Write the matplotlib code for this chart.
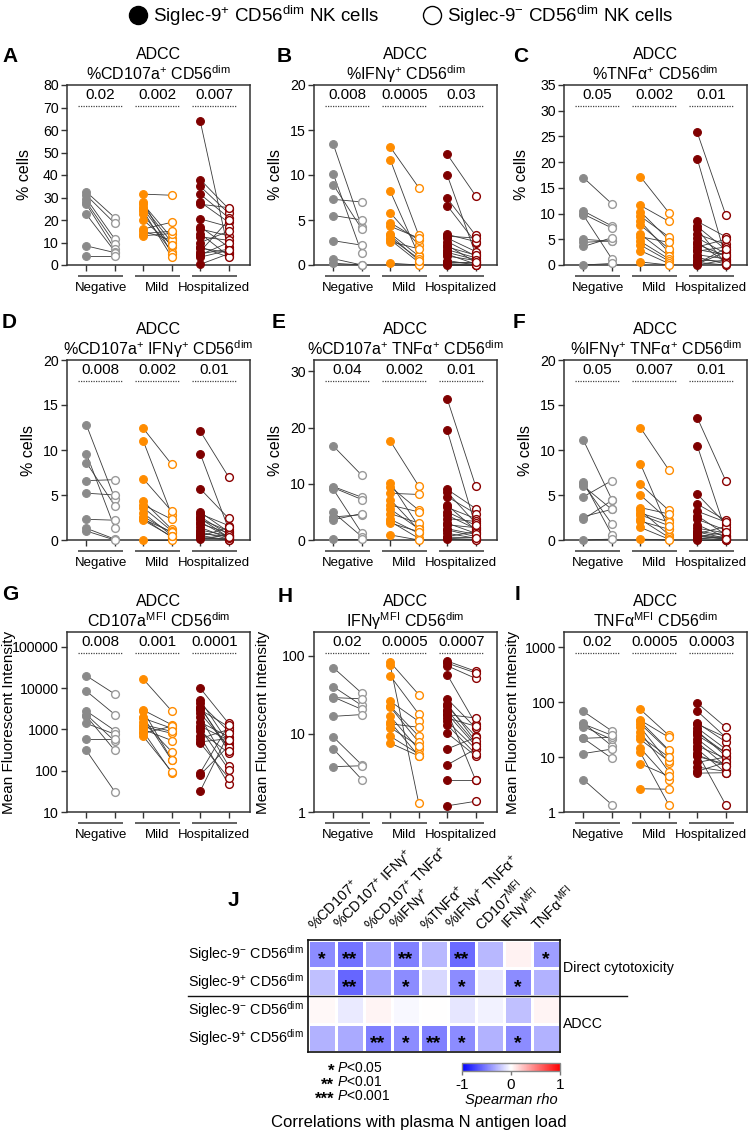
import matplotlib
matplotlib.use("Agg")
import matplotlib.pyplot as plt
from matplotlib.lines import Line2D
import numpy as np

plt.rcParams['font.family'] = ['Liberation Sans', 'DejaVu Sans']
plt.rcParams['mathtext.fontset'] = 'custom'
plt.rcParams['mathtext.rm'] = 'Liberation Sans'
plt.rcParams['mathtext.it'] = 'Liberation Sans:italic'
plt.rcParams['mathtext.bf'] = 'Liberation Sans:bold'

# ---------------- data ----------------
groups = ['Negative', 'Mild', 'Hospitalized']

A_neg_pos = [32.5, 31, 29.5, 28, 27, 22.5, 8.5, 3.8]
A_neg_neg = [21, 18.5, 11.5, 9.5, 7, 6, 5.5, 3.8]
A_mild_pos = [31.5, 27, 26, 25, 22.5, 16, 15, 13, 28, 24, 20, 14]
A_mild_neg = [31, 12, 10, 8, 6, 19, 11, 14, 5, 3.5, 9, 15]
A_hosp_pos = [64, 38, 35, 31.5, 28, 20.5, 17, 16, 12.5, 10, 7.5, 5, 4.5, 0.3, 27, 14, 8, 6, 3.5]
A_hosp_neg = [6, 25, 23, 21, 19, 17, 8, 13, 11, 15, 5.5, 7, 10, 5, 25.5, 4, 3.5, 20, 6.5]

B_neg_pos = [13.4, 10.1, 8.9, 7.3, 5.5, 2.7, 0.7, 0.2]
B_neg_neg = [4.2, 1.3, 4.0, 7.0, 5.0, 2.2, 0.0, 0.0]
B_mild_pos = [13.1, 11.7, 8.2, 5.8, 4.7, 3.5, 3.0, 2.8, 0.2, 4.3, 3.3, 2.6]
B_mild_neg = [8.6, 3.3, 1.1, 2.2, 2.8, 1.0, 0.7, 0.3, 0.0, 3.0, 0.5, 1.8]
B_hosp_pos = [12.3, 10.0, 7.4, 6.6, 3.4, 3.0, 2.6, 2.2, 1.7, 1.2, 1.0, 0.5, 0.3, 0.1, 0.0, 3.2, 2.0, 1.4, 0.2]
B_hosp_neg = [7.7, 1.2, 3.3, 2.5, 2.6, 1.5, 1.0, 0.3, 0.8, 0.1, 0.5, 0.0, 0.2, 0.0, 0.0, 3.0, 1.1, 0.6, 0.3]

C_neg_pos = [17, 10.5, 9.9, 9.7, 5.0, 4.4, 3.6, 0.0]
C_neg_neg = [11.9, 7.6, 7.2, 1.2, 4.6, 4.7, 5.3, 0.3]
C_mild_pos = [17.2, 11.6, 10.4, 9.5, 8.5, 7.8, 6.0, 4.6, 3.9, 2.8, 0.6, 5.5]
C_mild_neg = [10.2, 8.5, 4.9, 5.5, 2.5, 3.2, 1.8, 1.2, 0.8, 0.3, 0.0, 4.4]
C_hosp_pos = [25.8, 20.7, 8.5, 7.5, 6.0, 5.3, 4.0, 3.5, 2.7, 2.0, 1.0, 0.5, 0.2, 0.0, 7.0, 4.5, 3.0, 1.5, 0.3]
C_hosp_neg = [9.8, 1.5, 5.5, 3.0, 4.0, 2.2, 1.8, 5.0, 3.5, 1.2, 0.7, 0.0, 2.5, 1.0, 0.3, 0.5, 2.0, 0.2, 3.2]

D_neg_pos = [12.8, 9.6, 8.6, 6.6, 5.2, 2.3, 1.3, 1.0]
D_neg_neg = [4.6, 1.3, 3.8, 6.7, 5.0, 2.2, 0.1, 0.0]
D_mild_pos = [12.4, 11.0, 6.8, 4.3, 3.9, 3.6, 2.6, 2.4, 2.3, 0.0, 3.0, 2.2]
D_mild_neg = [8.4, 2.8, 3.2, 1.2, 2.3, 1.0, 0.8, 0.3, 0.9, 0.0, 0.5, 0.4]
D_hosp_pos = [12.1, 9.6, 5.7, 3.1, 2.9, 2.6, 2.3, 2.0, 1.8, 1.4, 1.1, 0.9, 0.7, 0.5, 0.4, 0.3, 0.2, 0.1, 2.4]
D_hosp_neg = [7.0, 1.2, 2.4, 0.9, 1.6, 0.6, 1.0, 0.3, 0.8, 0.2, 0.5, 0.1, 0.4, 0.0, 1.4, 0.0, 0.2, 0.6, 0.3]

E_neg_pos = [16.7, 9.5, 9.3, 9.0, 4.9, 4.1, 3.6, 0.1]
E_neg_neg = [11.5, 7.6, 7.2, 1.2, 0.6, 4.5, 4.7, 0.1]
E_mild_pos = [17.6, 10.2, 9.5, 8.3, 7.2, 6.2, 4.7, 3.7, 3.3, 0.9, 5.5, 3.0]
E_mild_neg = [9.6, 2.4, 5.3, 8.1, 1.8, 5.0, 3.0, 1.2, 0.3, 0.0, 2.0, 1.5]
E_hosp_pos = [25.1, 19.5, 9.0, 7.7, 6.2, 5.8, 4.4, 3.8, 3.0, 2.7, 1.8, 1.2, 0.6, 0.3, 0.1, 8.5, 5.0, 2.0, 0.5]
E_hosp_neg = [9.6, 2.4, 5.6, 4.7, 1.8, 3.8, 2.0, 3.3, 1.2, 2.2, 0.6, 0.3, 1.5, 0.1, 0.0, 3.0, 2.6, 1.0, 0.4]

F_neg_pos = [11.1, 6.5, 6.2, 6.0, 4.8, 2.6, 2.3, 0.0]
F_neg_neg = [4.5, 0.6, 1.8, 3.4, 6.6, 3.4, 4.4, 0.1]
F_mild_pos = [12.5, 8.5, 6.2, 5.0, 3.6, 3.3, 3.0, 2.3, 2.1, 1.4, 0.1, 2.8]
F_mild_neg = [7.8, 1.2, 3.3, 2.2, 2.9, 0.6, 2.0, 0.3, 1.2, 0.1, 0.0, 1.6]
F_hosp_pos = [13.6, 10.5, 5.1, 4.0, 2.7, 2.3, 1.7, 1.3, 0.9, 0.7, 0.4, 0.2, 0.1, 0.0, 3.2, 1.0, 0.6, 0.3, 0.5]
F_hosp_neg = [6.6, 1.0, 1.8, 2.2, 0.6, 1.1, 0.3, 0.8, 0.2, 1.5, 0.1, 0.0, 0.4, 0.0, 2.0, 0.5, 0.2, 0.9, 0.1]

G_neg_pos = [20000, 8500, 2800, 2300, 2100, 1400, 590, 310]
G_neg_neg = [7200, 2300, 940, 520, 310, 770, 590, 31]
G_mild_pos = [16600, 2950, 2800, 1870, 1500, 1170, 1000, 890, 800, 680, 2000, 1300]
G_mild_neg = [2800, 1300, 185, 1070, 290, 810, 540, 89, 1200, 95, 180, 900]
G_hosp_pos = [10000, 5100, 4300, 3400, 3000, 2000, 1500, 1070, 900, 680, 600, 470, 500, 89, 80, 32, 2500, 1200, 3600]
G_hosp_neg = [1400, 470, 900, 350, 1170, 130, 670, 107, 270, 47, 1000, 67, 600, 1300, 400, 800, 380, 550, 300]

H_neg_pos = [70, 40, 29.5, 29, 16.7, 9.1, 6.4, 3.8]
H_neg_neg = [33, 23, 20.5, 28, 17.6, 4.0, 2.6, 3.9]
H_mild_pos = [82, 75, 55, 26, 22.5, 22, 16.7, 14.1, 13.4, 9.3, 7.6, 12]
H_mild_neg = [31.7, 1.3, 17.9, 14.4, 9.3, 7.8, 6.3, 5.2, 12.1, 5.5, 5.2, 7.0]
H_hosp_pos = [85, 74, 57, 28, 22.4, 20, 19.4, 17.6, 15.9, 14.5, 10.2, 6.4, 4.0, 2.6, 1.2, 24, 13, 80, 18]
H_hosp_neg = [63, 51, 13.4, 11.9, 9.3, 7.5, 2.55, 15.9, 12.5, 6.4, 5.2, 9.0, 6.4, 2.6, 1.37, 8.0, 5.5, 60, 7.0]

I_neg_pos = [68, 42, 36, 22, 22, 11.6, 3.9, 40]
I_neg_neg = [30, 16, 21, 9.5, 23, 14, 1.36, 25]
I_mild_pos = [74, 47, 40.5, 35, 29, 21, 14.6, 12.2, 7.6, 2.65, 45, 24]
I_mild_neg = [25, 23, 13, 7.9, 5.4, 8.5, 3.9, 1.36, 4.5, 2.6, 13.5, 10]
I_hosp_pos = [97, 69, 42, 34, 30, 28, 21.5, 18.6, 16, 14, 12, 10.3, 8, 6.6, 5.1, 5.5, 40, 25, 11]
I_hosp_neg = [35, 23, 19, 14, 10.5, 12, 8.6, 6.9, 9.5, 5.2, 1.36, 7.5, 10, 5.5, 5.2, 8.0, 23, 12, 6.9]

pvals_A = ['0.02', '0.002', '0.007']
pvals_B = ['0.008', '0.0005', '0.03']
pvals_C = ['0.05', '0.002', '0.01']
pvals_D = ['0.008', '0.002', '0.01']
pvals_E = ['0.04', '0.002', '0.01']
pvals_F = ['0.05', '0.007', '0.01']
pvals_G = ['0.008', '0.001', '0.0001']
pvals_H = ['0.02', '0.0005', '0.0007']
pvals_I = ['0.02', '0.0005', '0.0003']

# heatmap J: Spearman rho with plasma N antigen load
J_cols = ['%CD107$^{+}$', '%CD107$^{+}$ IFNγ$^{+}$', '%CD107$^{+}$ TNFα$^{+}$', '%IFNγ$^{+}$',
          '%TNFα$^{+}$', '%IFNγ$^{+}$ TNFα$^{+}$', r'CD107$^{\mathrm{MFI}}$', r'IFNγ$^{\mathrm{MFI}}$',
          r'TNFα$^{\mathrm{MFI}}$']
J_rows = [r'Siglec-9$^{-}$ CD56$^{\mathrm{dim}}$', r'Siglec-9$^{+}$ CD56$^{\mathrm{dim}}$',
          r'Siglec-9$^{-}$ CD56$^{\mathrm{dim}}$', r'Siglec-9$^{+}$ CD56$^{\mathrm{dim}}$']
rho_direct_neg = [-0.45, -0.55, -0.35, -0.5, -0.28, -0.58, -0.28, 0.05, -0.38]
rho_direct_pos = [-0.25, -0.6, -0.33, -0.45, -0.15, -0.45, -0.1, -0.45, -0.3]
rho_adcc_neg = [0.03, -0.08, 0.04, -0.03, 0.0, -0.1, -0.05, -0.25, 0.04]
rho_adcc_pos = [-0.3, -0.33, -0.5, -0.45, -0.5, -0.45, -0.3, -0.45, -0.3]
stars_direct_neg = ['*', '**', '', '**', '', '**', '', '', '*']
stars_direct_pos = ['', '**', '', '*', '', '*', '', '*', '']
stars_adcc_neg = ['', '', '', '', '', '', '', '', '']
stars_adcc_pos = ['', '', '**', '*', '**', '*', '', '*', '']

# ---------------- figure ----------------
W, H = 750, 1132
fig = plt.figure(figsize=(W / 100, H / 100), dpi=100)


def fx(x):
    return x / W


def fy(y):
    return 1 - y / H


def add_ax(left, top, w, h):
    return fig.add_axes([fx(left), fy(top + h), w / W, h / H])


colors = ['#8a8a8a', '#ff8c00', '#7f0000']
open_edge = ['#9a9a9a', '#ff8c00', '#8b0000']
sp = r'CD56$^{\mathrm{dim}}$'

panels = [
    ('A', '%CD107a$^{+}$ ' + sp, [A_neg_pos, A_neg_neg, A_mild_pos, A_mild_neg, A_hosp_pos, A_hosp_neg],
     pvals_A, (0, 80), list(range(0, 81, 10)), False, '% cells'),
    ('B', '%IFNγ$^{+}$ ' + sp, [B_neg_pos, B_neg_neg, B_mild_pos, B_mild_neg, B_hosp_pos, B_hosp_neg],
     pvals_B, (0, 20), [0, 5, 10, 15, 20], False, '% cells'),
    ('C', '%TNFα$^{+}$ ' + sp, [C_neg_pos, C_neg_neg, C_mild_pos, C_mild_neg, C_hosp_pos, C_hosp_neg],
     pvals_C, (0, 35), list(range(0, 36, 5)), False, '% cells'),
    ('D', '%CD107a$^{+}$ IFNγ$^{+}$ ' + sp, [D_neg_pos, D_neg_neg, D_mild_pos, D_mild_neg, D_hosp_pos, D_hosp_neg],
     pvals_D, (0, 20), [0, 5, 10, 15, 20], False, '% cells'),
    ('E', '%CD107a$^{+}$ TNFα$^{+}$ ' + sp, [E_neg_pos, E_neg_neg, E_mild_pos, E_mild_neg, E_hosp_pos, E_hosp_neg],
     pvals_E, (0, 32), [0, 10, 20, 30], False, '% cells'),
    ('F', '%IFNγ$^{+}$ TNFα$^{+}$ ' + sp, [F_neg_pos, F_neg_neg, F_mild_pos, F_mild_neg, F_hosp_pos, F_hosp_neg],
     pvals_F, (0, 20), [0, 5, 10, 15, 20], False, '% cells'),
    ('G', r'CD107a$^{\mathrm{MFI}}$ ' + sp, [G_neg_pos, G_neg_neg, G_mild_pos, G_mild_neg, G_hosp_pos, G_hosp_neg],
     pvals_G, (10, 230000), [10, 100, 1000, 10000, 100000], True, 'Mean Fluorescent Intensity'),
    ('H', r'IFNγ$^{\mathrm{MFI}}$ ' + sp, [H_neg_pos, H_neg_neg, H_mild_pos, H_mild_neg, H_hosp_pos, H_hosp_neg],
     pvals_H, (1, 200), [1, 10, 100], True, 'Mean Fluorescent Intensity'),
    ('I', r'TNFα$^{\mathrm{MFI}}$ ' + sp, [I_neg_pos, I_neg_neg, I_mild_pos, I_mild_neg, I_hosp_pos, I_hosp_neg],
     pvals_I, (1, 1900), [1, 10, 100, 1000], True, 'Mean Fluorescent Intensity'),
]

col_left = [67, 314, 564]
row_top = [85, 360, 632]
box_w, box_h = 183, 180
letter_pos = {'A': (10, 56), 'B': (284, 56), 'C': (521, 56),
              'D': (9, 322), 'E': (279, 323), 'F': (519, 322),
              'G': (10, 595), 'H': (285, 596), 'I': (518, 594)}
ylabel_x = {'A': -0.19, 'B': -0.17, 'C': -0.19, 'D': -0.17, 'E': -0.17, 'F': -0.17,
            'G': -0.28, 'H': -0.24, 'I': -0.24}

for k, (letter, title, series, pv, ylim, yticks, logy, ylabel) in enumerate(panels):
    r, c = divmod(k, 3)
    ax = add_ax(col_left[c], row_top[r], box_w, box_h)
    if logy:
        ax.set_yscale('log')
    for g in range(3):
        x0, x1 = 2 * g, 2 * g + 1
        pos, neg = series[2 * g], series[2 * g + 1]
        for a, b in zip(pos, neg):
            ax.plot([x0, x1], [a, b], color='#3a3a3a', lw=0.6, zorder=2, clip_on=False)
        ax.plot([x0] * len(pos), pos, 'o', ms=5.6, mfc=colors[g], mec=colors[g], mew=0.8,
                zorder=3, clip_on=False)
        ax.plot([x1] * len(neg), neg, 'o', ms=5.6, mfc='white', mec=open_edge[g], mew=1.0,
                zorder=3, clip_on=False)
        # significance line and p value
        tr = ax.get_xaxis_transform()
        ax.plot([x0 - 0.3, x1 + 0.3], [0.885, 0.885], transform=tr, color='#444444', lw=0.9,
                ls=(0, (1, 1)), clip_on=False)
        ax.text(g * 2 + 0.5, 0.945, pv[g], transform=tr, ha='center', va='center', fontsize=11)
        # group bracket and label below the axis
        ax.plot([x0 - 0.3, x1 + 0.3], [-0.062, -0.062], transform=tr, color='#555555', lw=1.3,
                clip_on=False, solid_capstyle='butt')
        ax.text(g * 2 + 0.5, -0.13, groups[g], transform=tr, ha='center', va='center', fontsize=9.5)

    ax.set_xlim(-0.68, 5.75)
    ax.set_ylim(*ylim)
    ax.set_xticks(range(6))
    ax.set_xticklabels([])
    ax.set_yticks(yticks)
    ax.set_yticklabels([str(t) for t in yticks])
    ax.minorticks_off()
    ax.tick_params(axis='both', direction='out', length=4, width=1.0, color='#333333',
                   labelsize=10.2, pad=2)
    for s in ax.spines.values():
        s.set_color('#333333')
        s.set_linewidth(1.1)
    ax.set_ylabel(ylabel, fontsize=11 if logy else 11.5)
    ax.yaxis.set_label_coords(ylabel_x[letter], 0.5)
    ax.text(0.5, 1 + 26 / box_h, 'ADCC', transform=ax.transAxes, ha='center', va='baseline', fontsize=11.5)
    ax.text(0.5, 1 + 5 / box_h, title, transform=ax.transAxes, ha='center', va='baseline', fontsize=11.5)
    lx, ly = letter_pos[letter]
    fig.text(fx(lx), fy(ly), letter, ha='center', va='center', fontsize=15, fontweight='bold')

# legend at top
handles = [Line2D([], [], ls='none', marker='o', ms=13, mfc='black', mec='black'),
           Line2D([], [], ls='none', marker='o', ms=13, mfc='white', mec='black', mew=1.0)]
labels = [r'Siglec-9$^{+}$ CD56$^{\mathrm{dim}}$ NK cells', r'Siglec-9$^{-}$ CD56$^{\mathrm{dim}}$ NK cells']
fig.legend(handles, labels, loc='center', bbox_to_anchor=(fx(400), fy(16)), ncol=2, frameon=False,
           fontsize=13.5, handletextpad=0.2, columnspacing=2.2, handlelength=1.2)

# ---------------- heatmap J ----------------
hm_left, hm_top, cell = 308, 940, 28
axj = add_ax(hm_left, hm_top, cell * 9, cell * 4)
rho = np.array([rho_direct_neg, rho_direct_pos, rho_adcc_neg, rho_adcc_pos])
stars = [stars_direct_neg, stars_direct_pos, stars_adcc_neg, stars_adcc_pos]
mesh = axj.pcolormesh(np.arange(10), np.arange(5), rho, cmap='bwr', vmin=-1, vmax=1,
                      edgecolors='white', linewidth=1.0)
axj.set_xlim(0, 9)
axj.set_ylim(4, 0)
axj.set_xticks([])
axj.set_yticks([])
for s in axj.spines.values():
    s.set_linewidth(1.2)
    s.set_color('#111111')
for i in range(4):
    for j in range(9):
        if stars[i][j]:
            axj.text(j + 0.5, i + 0.7, stars[i][j], ha='center', va='center', fontsize=14,
                     fontweight='bold')
    axj.text(-0.15, i + 0.5, J_rows[i], ha='right', va='center', fontsize=10.3)
for j in range(9):
    axj.text(j + 0.3, -0.22, J_cols[j], rotation=45, rotation_mode='anchor', ha='left', va='bottom',
             fontsize=10.3)
axj.plot([-4.3, 11.4], [2, 2], color='#111111', lw=1.0, clip_on=False)
axj.text(9.12, 1.0, 'Direct cytotoxicity', ha='left', va='center', fontsize=10.2)
axj.text(9.12, 3.0, 'ADCC', ha='left', va='center', fontsize=10.2)
fig.text(fx(233), fy(900), 'J', ha='center', va='center', fontsize=15, fontweight='bold')

# colorbar
cax = add_ax(462, 1063, 98, 8)
cb = fig.colorbar(mesh, cax=cax, orientation='horizontal', ticks=[-1, 0, 1])
cb.ax.set_xticklabels(['-1', '0', '1'])
cb.ax.tick_params(labelsize=11, length=3, width=1, color='#777777', pad=2)
cb.outline.set_edgecolor('#888888')
cb.outline.set_linewidth(1.0)
fig.text(fx(511), fy(1100), 'Spearman rho', ha='center', va='center', fontsize=10.5, style='italic')

# significance legend
for k, (st, lab) in enumerate([('*', '<0.05'), ('**', '<0.01'), ('***', '<0.001')]):
    yy = 1068 + k * 14
    fig.text(fx(334), fy(yy + 3), st, ha='right', va='center', fontsize=12, fontweight='bold')
    fig.text(fx(337), fy(yy), r'$\it{P}$' + lab, ha='left', va='center', fontsize=10)

fig.text(fx(419), fy(1122), 'Correlations with plasma N antigen load', ha='center', va='center', fontsize=12)

fig.savefig('out.png', dpi=100)
